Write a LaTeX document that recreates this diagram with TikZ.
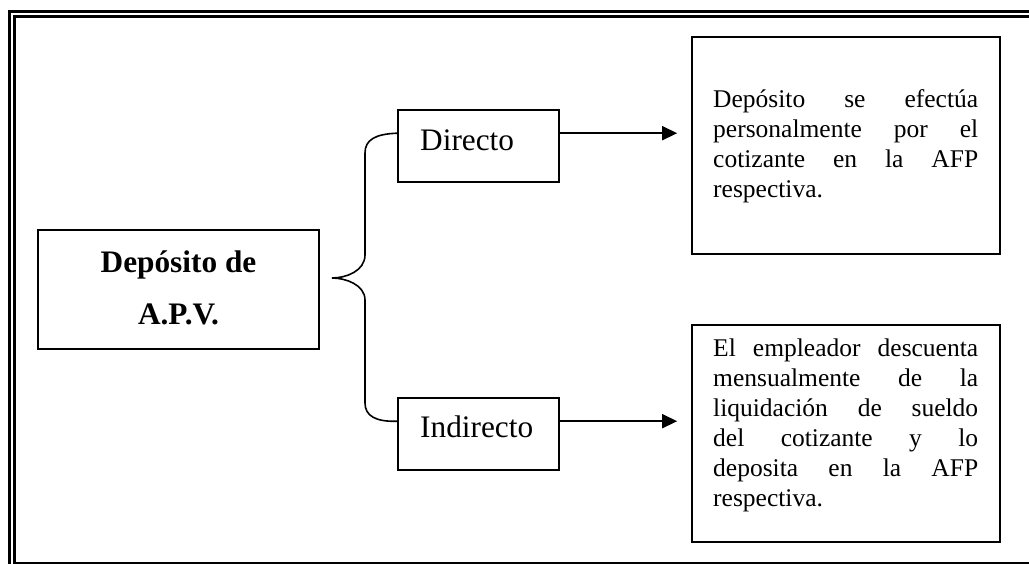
\documentclass[tikz,border=0pt]{standalone}
\usepackage{fontspec}
\setmainfont{Liberation Serif}
\usetikzlibrary{arrows.meta}
\begin{document}
\begin{tikzpicture}[x=1pt,y=-1pt,
  box/.style={draw=black,line width=1.6pt,rectangle,inner sep=0pt},
  frameline/.style={draw=black,line width=2.7pt},
  link/.style={line width=1.6pt},
  flow/.style={link,-{Triangle[length=15pt,width=14pt]},shorten >=14pt},
  big/.style={font=\fontsize{31.3pt}{53pt}\selectfont,inner sep=0pt},
  note/.style={font=\fontsize{25.5pt}{30pt}\selectfont,text width=265pt,
    align=justify,inner sep=0pt,anchor=base west}]

\useasboundingbox (0,0) rectangle (1029,564);
\clip (0,0) rectangle (1029,564);

% double page frame
\draw[frameline] (9.5,11.5) rectangle (1045,580);
\draw[frameline] (14.6,16.4) rectangle (1040,563.4);

% boxes
\node[box,minimum width=281pt,minimum height=119pt] (apv) at (178.5,289.5) {};
\node[box,minimum width=161pt,minimum height=72pt] (dir) at (478.5,146) {};
\node[box,minimum width=161pt,minimum height=72pt] (ind) at (478.5,434) {};
\node[box,minimum width=308pt,minimum height=217pt] (d1) at (846,145.5) {};
\node[box,minimum width=308pt,minimum height=217pt] (d2) at (846,433.5) {};

% texts
\node[big,align=center,anchor=base] (apvtext) at (178.5,325)
  {\textbf{Depósito de}\\\textbf{A.P.V.}};
\node[big,anchor=base west] (dirtext) at (420,151) {Directo};
\node[big,anchor=base west] (indtext) at (420,437) {Indirecto};
\node[note] (d1text) at (713,108) {\tolerance=10000\hyphenpenalty=10000
  Depósito se efectúa\linebreak personalmente por el\linebreak
  cotizante en la AFP\linebreak respectiva.};
\node[note] (d2text) at (713,356) {\tolerance=10000\hyphenpenalty=10000
  El empleador descuenta\linebreak mensualmente de la\linebreak
  liquidación de sueldo\linebreak del cotizante y lo\linebreak
  deposita en la AFP\linebreak respectiva.};

% brace joining the two options
\coordinate (dirin) at ([yshift=-24pt]dir.north west);
\coordinate (indin) at ([yshift=-24pt]ind.north west);
\coordinate (tip) at (332,278);
\draw[link] (dirin) .. controls (375,134) and (365,140) .. (365,153)
  -- (365,255) .. controls (365,271) and (346,278) .. (tip)
  .. controls (346,278) and (365,285) .. (365,300)
  -- (365,403) .. controls (365,416) and (376,422) .. (indin);

% arrows to the descriptions
\coordinate (dirout) at ([yshift=-24pt]dir.north east);
\coordinate (indout) at ([yshift=-24pt]ind.north east);
\draw[flow] (dirout) -- (dirout -| d1.west);
\draw[flow] (indout) -- (indout -| d2.west);
\end{tikzpicture}
\end{document}
